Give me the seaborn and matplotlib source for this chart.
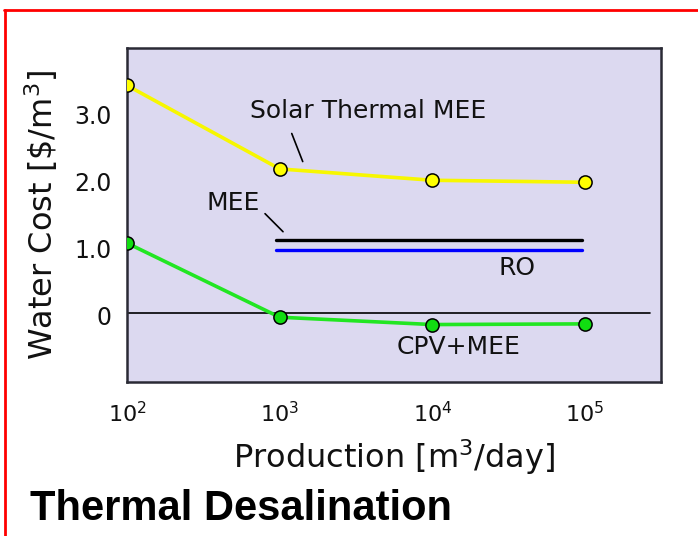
import matplotlib
matplotlib.use("Agg")
import matplotlib.pyplot as plt
from matplotlib.lines import Line2D
import seaborn as sns
import pandas as pd

# ---- data ----
production = [1e2, 1e3, 1e4, 1e5]
solar_thermal_mee = [3.44, 2.19, 2.02, 1.99]
cpv_mee = [1.08, -0.03, -0.14, -0.13]
mee_range = [950, 95000]
mee_cost = [1.13, 1.13]
ro_range = [950, 95000]
ro_cost = [0.98, 0.98]
zero_range = [100, 266000]
zero_cost = [0.03, 0.03]
xtick_values = [1e2, 1e3, 1e4, 1e5]
xtick_labels = ["$10^2$", "$10^3$", "$10^4$", "$10^5$"]
ytick_values = [-1, 0, 1, 2, 3]
ytick_labels = ["", "0", "1.0", "2.0", "3.0"]

df_solar = pd.DataFrame({"x": production, "y": solar_thermal_mee})
df_cpv = pd.DataFrame({"x": production, "y": cpv_mee})

sns.set_style("white")
plt.rcParams["font.family"] = ["DejaVu Sans"]
plt.rcParams["mathtext.default"] = "regular"

fig = plt.figure(figsize=(6.98, 5.36), dpi=100)
W, H = 698, 536
ax = fig.add_axes([127 / W, 1 - 382 / H, 534 / W, 334 / H])
ax.set_facecolor("#dcd9f0")

# reference lines
ax.plot(zero_range, zero_cost, color="black", lw=1.2, zorder=2)
ax.plot(mee_range, mee_cost, color="black", lw=2.4, zorder=2)
ax.plot(ro_range, ro_cost, color="#0000ff", lw=2.4, zorder=2)

sns.lineplot(data=df_solar, x="x", y="y", ax=ax, color="#f7f700", lw=2.6,
             marker="o", markersize=9.5, markerfacecolor="#ffff00",
             markeredgecolor="black", markeredgewidth=1.1, zorder=3)
sns.lineplot(data=df_cpv, x="x", y="y", ax=ax, color="#22e622", lw=2.6,
             marker="o", markersize=9.5, markerfacecolor="#11dd11",
             markeredgecolor="black", markeredgewidth=1.1, zorder=3)

ax.set_xscale("log")
ax.set_xlim(100, 10 ** 5.498)
ax.set_ylim(-1, 4.0)
ax.set_xticks(xtick_values)
ax.set_xticklabels(xtick_labels, fontsize=16)
ax.xaxis.set_minor_locator(matplotlib.ticker.NullLocator())
ax.set_yticks(ytick_values)
ax.set_yticklabels(ytick_labels, fontsize=17)
ax.tick_params(axis="both", direction="out", length=6, width=1.2,
               color="#333333", labelcolor="#111111", pad=5)
ax.tick_params(axis="x", length=8, pad=6)

for s in ax.spines.values():
    s.set_visible(True)
    s.set_color("#2a2a35")
    s.set_linewidth(1.8)

ax.set_xlabel("Production [m$^3$/day]", fontsize=23, color="#111111", labelpad=8)
ax.set_ylabel("Water Cost [\\$/m$^3$]", fontsize=23, color="#111111", labelpad=10)

# annotations
ax.text(640, 3.05, "Solar Thermal MEE", fontsize=18, ha="left", va="center", color="#111111")
ax.plot([1200, 1416], [2.72, 2.30], color="black", lw=1.2)
ax.text(333, 1.68, "MEE", fontsize=18, ha="left", va="center", color="#111111")
ax.plot([802, 1052], [1.52, 1.25], color="black", lw=1.2)
ax.text(27300, 0.70, "RO", fontsize=18, ha="left", va="center", color="#111111")
ax.text(5860, -0.47, "CPV+MEE", fontsize=18, ha="left", va="center", color="#111111")

# title
fig.text(30 / W, 1 - 520 / H, "Thermal Desalination", fontsize=30, fontweight="bold",
         family=["Liberation Sans", "DejaVu Sans"], ha="left", va="baseline", color="black")

# red frame (top and left)
fig.add_artist(Line2D([4 / W, 1.0], [1 - 10 / H, 1 - 10 / H], color="red", lw=2,
                      transform=fig.transFigure))
fig.add_artist(Line2D([5 / W, 5 / W], [0, 1 - 10 / H], color="red", lw=2,
                      transform=fig.transFigure))

fig.savefig("out.png", dpi=100)
